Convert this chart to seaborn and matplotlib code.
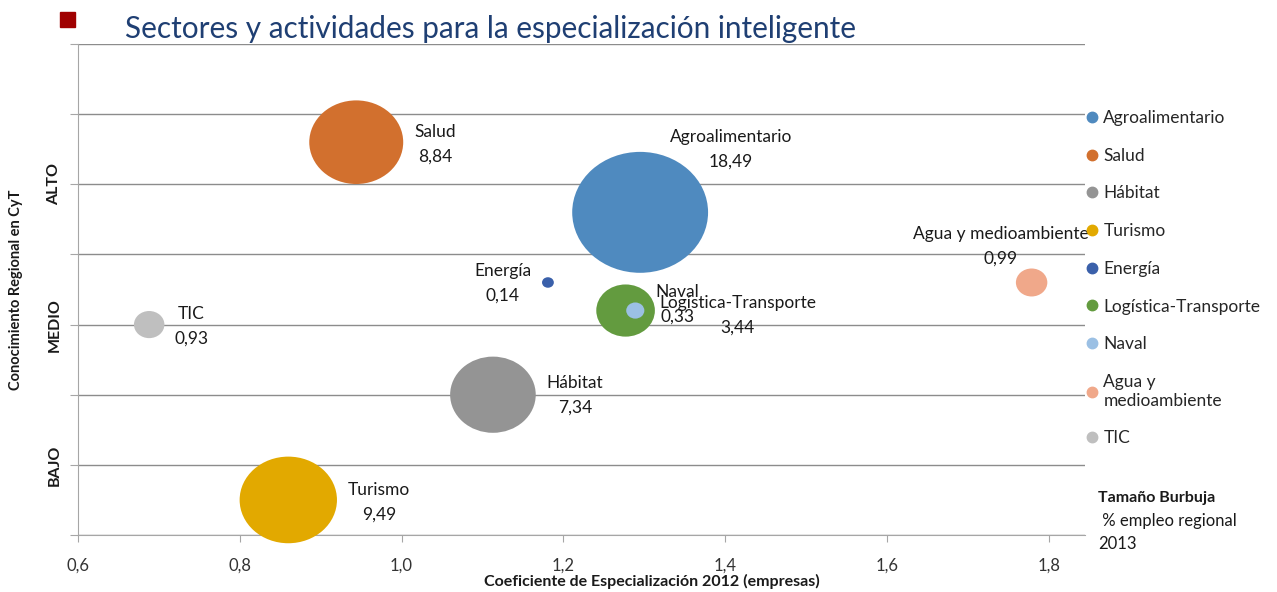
import numpy as np
import pandas as pd
import matplotlib
matplotlib.use("Agg")
import matplotlib.pyplot as plt
from matplotlib.path import Path
from matplotlib.transforms import Affine2D
from matplotlib.lines import Line2D
from matplotlib.patches import Rectangle
import seaborn as sns

# Datos
sectores = ["Agroalimentario", "Salud", "Hábitat", "Turismo", "Energía",
            "Logística-Transporte", "Naval", "Agua y medioambiente", "TIC"]
coef_especializacion = [1.295, 0.944, 1.113, 0.860, 1.181, 1.277, 1.289, 1.779, 0.688]
conocimiento = [4.6, 5.6, 2.0, 0.5, 3.6, 3.2, 3.2, 3.6, 3.0]
empleo = [18.49, 8.84, 7.34, 9.49, 0.14, 3.44, 0.33, 0.99, 0.93]
colores = ["#4F8ABF", "#D2702E", "#949494", "#E2A900", "#3A60AA",
           "#639B3F", "#9BC0E4", "#F0A88A", "#BFBFBF"]
niveles_y = ["", "BAJO", "", "MEDIO", "", "ALTO", "", ""]
ticks_x = [0.6, 0.8, 1.0, 1.2, 1.4, 1.6, 1.8]

# desplazamiento de las etiquetas respecto a la burbuja (px, y hacia abajo)
offsets = {
    "Agroalimentario": (91, -63), "Salud": (79, 2), "Hábitat": (82, 1),
    "Turismo": (91, 2), "Energía": (-45, 1), "Logística-Transporte": (112, 5),
    "Naval": (42, -6), "Agua y medioambiente": (-31, -36), "TIC": (42, 2),
}

df = pd.DataFrame({"sector": sectores, "x": coef_especializacion,
                   "y": conocimiento, "empleo": empleo})

sns.set_style("white")
plt.rcParams["font.family"] = ["Lato", "DejaVu Sans"]

fig = plt.figure(figsize=(12.77, 5.92), dpi=100)
ax = fig.add_axes([78 / 1277, 57 / 592, 1007 / 1277, 491 / 592])

# burbujas ligeramente achatadas como en Excel
elipse = Path.unit_circle().transformed(Affine2D().scale(1, 0.89))
k = 517.6
sns.scatterplot(
    data=df, x="x", y="y", hue="sector",
    palette=dict(zip(sectores, colores)),
    size="empleo", sizes=(k * min(empleo), k * max(empleo)),
    size_norm=(min(empleo), max(empleo)),
    marker=elipse, linewidth=0, alpha=1, legend=False,
    ax=ax, clip_on=False, zorder=3,
)

# etiquetas de datos
for s, x, y, v in zip(sectores, coef_especializacion, conocimiento, empleo):
    dx, dy = offsets[s]
    ax.annotate(f"{s}\n{v:.2f}".replace(".", ","), xy=(x, y),
                xytext=(dx * 0.72, -dy * 0.72), textcoords="offset points",
                ha="center", va="center", fontsize=12.5, linespacing=1.65,
                color="#1a1a1a", zorder=4)

ax.set_xlim(0.6, 1.845)
ax.set_ylim(0, 7)
ax.set_axisbelow(True)
ax.yaxis.grid(True, color="#8C8C8C", lw=1)
ax.xaxis.grid(False)
for side in ["top", "right"]:
    ax.spines[side].set_visible(False)
for side in ["left", "bottom"]:
    ax.spines[side].set_color("#A6A6A6")

ax.set_xticks(ticks_x)
ax.set_xticklabels([f"{t:.1f}".replace(".", ",") for t in ticks_x],
                   fontsize=12, color="#333333")
ax.set_yticks(range(8))
ax.set_yticklabels(niveles_y, rotation=90, fontsize=11.5, fontweight="bold",
                   va="center", color="#1a1a1a")
ax.tick_params(axis="x", length=5, color="#A6A6A6", pad=11, bottom=True)
ax.tick_params(axis="y", length=6, color="#A6A6A6", pad=6, left=True)

ax.set_xlabel("Coeficiente de Especialización 2012 (empresas)",
              fontsize=11.5, fontweight="bold", color="#1a1a1a")
ax.xaxis.set_label_coords(0.57, -0.08)
ax.set_ylabel("Conocimiento Regional en CyT", fontsize=10.5,
              fontweight="bold", color="#1a1a1a")
ax.yaxis.set_label_coords(-0.055, 0.5)

# leyenda
handles = [Line2D([], [], marker="o", ls="", color=c, markersize=7.5)
           for c in colores]
labels = [s.replace("Agua y ", "Agua y\n") for s in sectores]
fig.legend(handles, labels, loc="upper left",
           bbox_to_anchor=(1086 / 1277, 1 - 110 / 592), frameon=False,
           fontsize=12.5, labelspacing=1.25, handlelength=0.7,
           handletextpad=0.3, borderpad=0, borderaxespad=0)

fig.text(1098 / 1277, 1 - 498 / 592, "Tamaño Burbuja", fontsize=11.5,
         fontweight="bold", va="center", color="#1a1a1a")
fig.text(1098 / 1277, 1 - 521 / 592, " % empleo regional", fontsize=12,
         va="center", color="#1a1a1a")
fig.text(1098 / 1277, 1 - 544 / 592, "2013", fontsize=12,
         va="center", color="#1a1a1a")

# título con el cuadrado rojo
fig.patches.append(Rectangle((60 / 1277, 1 - 27 / 592), 15 / 1277, 15 / 592,
                             transform=fig.transFigure, color="#A00000"))
fig.text(125 / 1277, 1 - 29 / 592,
         "Sectores y actividades para la especialización inteligente",
         fontsize=21.4, color="#1F3F73", va="center")

fig.savefig("out.png", dpi=100)
